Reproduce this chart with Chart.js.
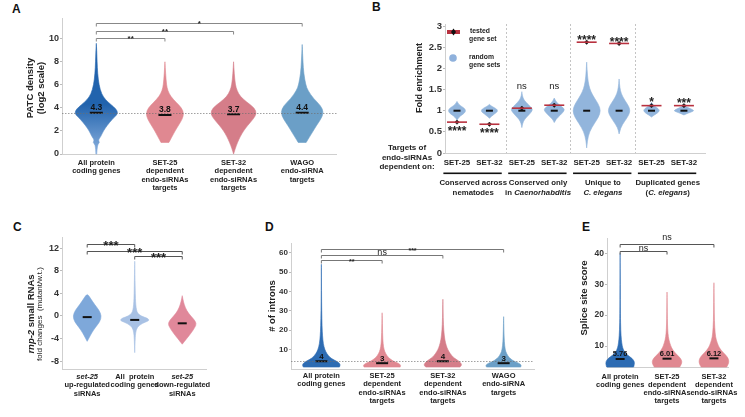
<!DOCTYPE html>
<html>
<head>
<meta charset="utf-8">
<script src="https://cdn.jsdelivr.net/npm/chart.js@4.4.0/dist/chart.umd.min.js"></script>
<style>
    body { margin: 0; background: #fff; width: 745px; height: 417px; overflow: hidden; position: relative;
           font-family: 'Liberation Sans', Arial, sans-serif; }
    canvas { position: absolute; }
    .letter { position: absolute; font-weight: bold; font-size: 12px; line-height: 1; color: #111; }
</style>
</head>
<body>
<div class="letter" style="left:12px;top:3px">A</div>
<div class="letter" style="left:372px;top:1px">B</div>
<div class="letter" style="left:13px;top:221px">C</div>
<div class="letter" style="left:265px;top:221px">D</div>
<div class="letter" style="left:582px;top:221px">E</div>

<canvas id="chartA" width="345" height="210" style="left:0;top:0"></canvas>
<canvas id="chartB" width="400" height="210" style="left:345px;top:0"></canvas>
<canvas id="chartC" width="250" height="207" style="left:0;top:210px"></canvas>
<canvas id="chartD" width="292" height="207" style="left:250px;top:210px"></canvas>
<canvas id="chartE" width="203" height="207" style="left:542px;top:210px"></canvas>

<script>
// ---- A: PATC density ----
const aCategories = [['All protein', 'coding genes'], ['SET-25', 'dependent', 'endo-siRNAs', 'targets'],
                     ['SET-32', 'dependent', 'endo-siRNAs', 'targets'], ['WAGO', 'endo-siRNA', 'targets']];
const aYTicks = [0, 2, 4, 6, 8, 10];
const aMedians = [3.57, 3.39, 3.45, 3.57];
const aMeanLabels = ['4.3', '3.8', '3.7', '4.4'];
const aReference = 3.55;
const aBrackets = [[1, 2, 10.1, '**'], [1, 3, 10.7, '**'], [1, 4, 11.4, '*']];
// violin outlines: [value, relative half width]
const aViolins = [
    [[0, 0.02], [0.8, 0.04], [1.0, 0.16], [1.2, 0.08], [1.5, 0.2], [2, 0.32], [2.5, 0.5], [3, 0.72], [3.4, 0.93],
     [3.6, 0.97], [3.9, 0.9], [4.3, 0.66], [4.7, 0.42], [5.2, 0.24], [6, 0.12], [7, 0.06], [8, 0.035], [9, 0.018], [9.6, 0]],
    [[1, 0.18], [1.5, 0.32], [2, 0.46], [2.5, 0.62], [3, 0.78], [3.5, 0.86], [4, 0.76], [4.5, 0.5], [5, 0.26],
     [5.5, 0.13], [6, 0.07], [7, 0.03], [8, 0]],
    [[0, 0], [0.5, 0.08], [1, 0.18], [1.5, 0.3], [2, 0.45], [2.5, 0.65], [3, 0.88], [3.5, 1.05], [4, 0.95],
     [4.5, 0.6], [5, 0.3], [5.5, 0.16], [6, 0.08], [7, 0.03], [8, 0]],
    [[1, 0.18], [1.5, 0.34], [2, 0.5], [2.5, 0.66], [3, 0.84], [3.6, 0.98], [4.2, 0.84], [4.8, 0.52], [5.5, 0.26],
     [6, 0.16], [7, 0.07], [8, 0.035], [9.5, 0]]
];

// ---- B: fold enrichment ----
const bCategories = ['SET-25', 'SET-32', 'SET-25', 'SET-32', 'SET-25', 'SET-32', 'SET-25', 'SET-32'];
const bGroups = [['Conserved across', 'nematodes'], ['Conserved only', 'in _Caenorhabditis_'],
                 ['Unique to', '_C. elegans_'], ['Duplicated genes', '(_C. elegans_)']];
const bYTicks = [0, 0.5, 1, 1.5, 2, 2.5, 3];
const bMedians = [1, 1, 1, 1, 1, 1, 1, 1];
const bTested = [0.73, 0.68, 1.06, 1.13, 2.62, 2.59, 1.12, 1.12];
const bSigLabels = ['****', '****', 'ns', 'ns', '****', '****', '*', '***'];
const bSigLevels = [0.6, 0.54, 1.58, 1.58, 2.75, 2.71, 1.27, 1.25];
const bRowTitle = ['Targets of', 'endo-siRNAs', 'dependent on:'];
const bLegendTested = ['tested', 'gene set'];
const bLegendRandom = ['random', 'gene sets'];
const bViolins = [
    [[0.78, 0], [0.85, 0.15], [0.9, 0.35], [0.95, 0.55], [1.0, 0.62], [1.05, 0.55], [1.1, 0.33], [1.15, 0.13], [1.22, 0]],
    [[0.82, 0], [0.87, 0.15], [0.92, 0.35], [0.97, 0.55], [1.0, 0.58], [1.04, 0.52], [1.08, 0.3], [1.12, 0.1], [1.15, 0]],
    [[0.6, 0], [0.7, 0.05], [0.8, 0.2], [0.9, 0.5], [1.0, 0.75], [1.05, 0.74], [1.15, 0.45], [1.25, 0.15], [1.35, 0.04], [1.45, 0]],
    [[0.72, 0], [0.8, 0.12], [0.9, 0.45], [1.0, 0.72], [1.05, 0.7], [1.12, 0.45], [1.2, 0.15], [1.3, 0]],
    [[0.12, 0], [0.3, 0.05], [0.5, 0.2], [0.7, 0.55], [0.85, 0.85], [1.0, 1.0], [1.15, 0.85], [1.3, 0.55], [1.45, 0.3],
     [1.6, 0.15], [1.8, 0.06], [2.15, 0]],
    [[0.45, 0], [0.6, 0.1], [0.75, 0.4], [0.9, 0.7], [1.0, 0.78], [1.1, 0.7], [1.25, 0.4], [1.4, 0.15], [1.55, 0.05], [1.75, 0]],
    [[0.85, 0], [0.9, 0.2], [0.95, 0.45], [1.0, 0.58], [1.05, 0.48], [1.1, 0.25], [1.15, 0.08], [1.2, 0]],
    [[0.9, 0], [0.95, 0.35], [1.0, 0.78], [1.05, 0.45], [1.1, 0.12], [1.15, 0]]
];

// ---- C: rnp-2 small RNAs ----
const cCategories = [['_set-25_', 'up-regulated', 'siRNAs'], ['All  protein', 'coding genes'],
                     ['_set-25_', 'down-regulated', 'siRNAs']];
const cYTicks = [-8, -4, 0, 4, 8, 12];
const cMedians = [-0.2, -0.7, -1.3];
const cBrackets = [[1, 2, 12.7, '***'], [1, 3, 11.6, '***'], [2, 3, 10.6, '***']];
const cTitle = ['_rnp-2_ small RNAs', 'fold changes  (mutant/w.t.)'];
const cViolins = [
    [[-4.5, 0], [-4, 0.1], [-3, 0.3], [-2, 0.55], [-1, 0.85], [0, 0.95], [1, 0.8], [2, 0.5], [3, 0.25], [3.6, 0.1], [3.8, 0]],
    [[-6.5, 0], [-4, 0.03], [-3, 0.06], [-2, 0.15], [-1.3, 0.5], [-0.9, 0.9], [-0.7, 0.95], [-0.4, 0.85], [0, 0.4],
     [0.5, 0.2], [1, 0.12], [2, 0.07], [3, 0.05], [5, 0.03], [9.7, 0]],
    [[-5, 0], [-4.5, 0.15], [-4, 0.3], [-3, 0.6], [-2, 0.85], [-1.3, 0.95], [-0.5, 0.75], [0.5, 0.4], [1.5, 0.2],
     [2.5, 0.08], [3.6, 0]]
];

// ---- D: number of introns ----
const dCategories = [['All protein', 'coding genes'], ['SET-25', 'dependent', 'endo-siRNAs', 'targets'],
                     ['SET-32', 'dependent', 'endo-siRNAs', 'targets'], ['WAGO', 'endo-siRNA', 'targets']];
const dYTicks = [10, 20, 30, 40, 50, 60];
const dMedians = [4, 3, 4, 3];
const dMedianLabels = ['4', '3', '4', '3'];
const dReference = 4;
const dBrackets = [[1, 2, 56, '**'], [1, 3, 59, 'ns'], [1, 4, 62, '***']];
const dViolins = [
    [[1, 0.95], [2, 1.0], [3, 0.95], [4, 0.8], [5, 0.6], [6, 0.45], [8, 0.28], [10, 0.18], [13, 0.1], [17, 0.06],
     [22, 0.035], [30, 0.018], [40, 0.008], [54, 0]],
    [[1, 0.95], [2, 1.0], [3, 0.85], [4, 0.6], [5, 0.45], [6, 0.32], [8, 0.18], [10, 0.1], [13, 0.05], [18, 0.025], [29, 0]],
    [[1, 0.9], [2, 1.0], [3, 0.95], [4, 0.85], [5, 0.7], [6, 0.55], [8, 0.38], [10, 0.26], [12, 0.18], [15, 0.1],
     [20, 0.045], [26, 0.018], [36, 0]],
    [[1, 0.9], [2, 0.95], [3, 0.8], [4, 0.55], [5, 0.4], [6, 0.28], [8, 0.15], [10, 0.08], [14, 0.035], [20, 0.015], [27, 0]]
];

// ---- E: splice site score ----
const eCategories = [['All protein', 'coding genes'], ['SET-25', 'dependent', 'endo-siRNAs', 'targets'],
                     ['SET-32', 'dependent', 'endo-siRNAs', 'targets']];
const eYTicks = [10, 20, 30, 40];
const eMedians = [5.8, 5.9, 6.0];
const eMedianLabels = ['5.76', '6.01', '6.12'];
const eBrackets = [[1, 2, 40.7, 'ns'], [1, 3, 42.9, 'ns', 45.1]];
const eViolins = [
    [[3.2, 0.9], [4, 0.95], [5, 0.95], [6, 0.8], [7, 0.5], [8, 0.3], [9, 0.2], [10, 0.14], [12, 0.08], [15, 0.04],
     [20, 0.02], [30, 0.01], [40, 0]],
    [[3.2, 0.85], [4, 0.95], [5, 1.0], [6, 0.9], [7, 0.7], [8, 0.5], [9, 0.35], [10, 0.25], [12, 0.12], [14, 0.06],
     [17, 0.03], [21, 0.015], [27.5, 0]],
    [[3.2, 0.85], [4, 0.95], [5, 1.0], [6, 0.95], [7, 0.8], [8, 0.6], [9, 0.42], [10, 0.3], [12, 0.15], [14, 0.08],
     [18, 0.03], [24, 0.015], [30.5, 0]]
];

const FONT = "'Liberation Sans', Arial, sans-serif";
Chart.defaults.font.family = FONT;
Chart.defaults.color = '#333';

const DARK_BLUE = '#2d6cb3';
const PINK = '#e08891';
const PINK_DARK = '#d57d89';
const STEEL = '#6b9fc7';

function font(size, weight, style) {
    return (style || 'normal') + ' ' + (weight || 'normal') + ' ' + size + 'px ' + FONT;
}

// text with _italic_ parts, centred on (cx, cy)
function richText(ctx, text, cx, cy, size, weight, color) {
    const parts = text.split('_');
    ctx.save();
    ctx.textBaseline = 'middle';
    ctx.textAlign = 'left';
    ctx.fillStyle = color || '#222';
    let total = 0;
    const widths = parts.map((p, i) => {
        ctx.font = font(size, weight, i % 2 ? 'italic' : 'normal');
        const w = ctx.measureText(p).width;
        total += w;
        return w;
    });
    let px = cx - total / 2;
    parts.forEach((p, i) => {
        ctx.font = font(size, weight, i % 2 ? 'italic' : 'normal');
        ctx.fillText(p, px, cy);
        px += widths[i];
    });
    ctx.restore();
}

function verticalText(ctx, text, x, y, size, weight) {
    ctx.save();
    ctx.translate(x, y);
    ctx.rotate(-Math.PI / 2);
    richText(ctx, text, 0, 0, size, weight, '#222');
    ctx.restore();
}

// label centred at cy; asterisks sit high in the em box, so they get a lower baseline
function sigText(ctx, text, cx, cy, size, weight) {
    ctx.save();
    ctx.font = font(size, weight);
    ctx.fillStyle = '#222';
    ctx.textAlign = 'center';
    ctx.textBaseline = 'alphabetic';
    const stars = /^\*+$/.test(text);
    ctx.fillText(text, cx, cy + (stars ? 0.6 : 0.27) * size);
    ctx.restore();
}

function smoothShape(ctx, pts) {
    ctx.moveTo(pts[0][0], pts[0][1]);
    for (let i = 1; i < pts.length - 1; i++) {
        const mx = (pts[i][0] + pts[i + 1][0]) / 2;
        const my = (pts[i][1] + pts[i + 1][1]) / 2;
        ctx.quadraticCurveTo(pts[i][0], pts[i][1], mx, my);
    }
    const last = pts[pts.length - 1];
    ctx.lineTo(last[0], last[1]);
}

function drawViolins(chart, shapes, colors, halfWidth) {
    const { ctx, scales: { x, y } } = chart;
    shapes.forEach((prof, i) => {
        const cx = x.getPixelForValue(i + 1);
        const right = prof.map(p => [cx + p[1] * halfWidth, y.getPixelForValue(p[0])]);
        const left = prof.slice().reverse().map(p => [cx - p[1] * halfWidth, y.getPixelForValue(p[0])]);
        const col = colors[i];
        ctx.save();
        if (Array.isArray(col)) {
            const g = ctx.createLinearGradient(0, right[right.length - 1][1], 0, right[0][1]);
            g.addColorStop(0, col[0]);
            g.addColorStop(0.55, col[0]);
            g.addColorStop(1, col[1]);
            ctx.fillStyle = g;
            ctx.strokeStyle = g;
        } else {
            ctx.fillStyle = col;
            ctx.strokeStyle = col;
        }
        ctx.beginPath();
        smoothShape(ctx, right.concat(left));
        ctx.closePath();
        ctx.fill();
        ctx.lineWidth = 0.6;
        ctx.stroke();
        ctx.restore();
    });
}

function drawRefLine(chart, value) {
    const { ctx, chartArea, scales: { y } } = chart;
    const yy = Math.round(y.getPixelForValue(value)) + 0.5;
    ctx.save();
    ctx.strokeStyle = 'rgba(110,110,110,0.65)';
    ctx.lineWidth = 1;
    ctx.setLineDash([1.5, 1.5]);
    ctx.beginPath();
    ctx.moveTo(chartArea.left, yy);
    ctx.lineTo(chartArea.right, yy);
    ctx.stroke();
    ctx.restore();
}

function drawValueLabels(chart, labels, values, size) {
    const { ctx, scales: { x, y } } = chart;
    ctx.save();
    ctx.font = font(size, 'bold');
    ctx.fillStyle = '#111';
    ctx.textAlign = 'center';
    ctx.textBaseline = 'alphabetic';
    labels.forEach((t, i) => ctx.fillText(t, x.getPixelForValue(i + 1), y.getPixelForValue(values[i]) - 2.5));
    ctx.restore();
}

function drawBrackets(chart, list, st) {
    const { ctx, scales: { x, y } } = chart;
    list.forEach(b => {
        const x1 = x.getPixelForValue(b[0]);
        const x2 = x.getPixelForValue(b[1]);
        const yy = Math.round(y.getPixelForValue(b[2])) + 0.5;
        ctx.save();
        ctx.strokeStyle = st.color;
        ctx.lineWidth = st.width;
        ctx.beginPath();
        ctx.moveTo(x1, yy + st.tick);
        ctx.lineTo(x1, yy);
        ctx.lineTo(x2, yy);
        ctx.lineTo(x2, yy + st.tick);
        ctx.stroke();
        ctx.restore();
        const stars = /^\*+$/.test(b[3]);
        const cy = b[4] !== undefined ? y.getPixelForValue(b[4]) : yy - (stars ? st.starLift : st.textLift);
        if (stars) sigText(ctx, b[3], (x1 + x2) / 2, cy, st.starSize, 'bold');
        else sigText(ctx, b[3], (x1 + x2) / 2, cy, st.textSize, 'normal');
    });
}

function makeChart(id, spec) {
    const datasets = [{
        data: spec.medians.map((m, i) => ({ x: i + 1, y: m })),
        showLine: false,
        pointStyle: 'line',
        pointRadius: spec.medianHalf,
        pointBorderColor: '#111',
        pointBorderWidth: 2
    }].concat(spec.extraDatasets || []);

    return new Chart(document.getElementById(id), {
        type: 'scatter',
        data: { datasets: datasets },
        options: {
            responsive: false,
            animation: false,
            events: [],
            layout: { padding: spec.padding },
            plugins: { legend: { display: false }, tooltip: { enabled: false } },
            scales: {
                x: {
                    type: 'linear',
                    min: spec.xRange[0],
                    max: spec.xRange[1],
                    afterBuildTicks: s => { s.ticks = spec.categories.map((c, i) => ({ value: i + 1 })); },
                    afterFit: s => { s.height = spec.xHeight; s.paddingLeft = 0; s.paddingRight = 0; },
                    ticks: {
                        display: spec.showXTicks !== false,
                        autoSkip: false, maxRotation: 0, minRotation: 0,
                        padding: spec.xPad,
                        color: '#222',
                        font: spec.xFont,
                        callback: v => spec.categories[Math.round(v) - 1]
                    },
                    grid: { display: false, drawTicks: false },
                    border: { color: '#cfcfcf', width: 1 }
                },
                y: {
                    type: 'linear',
                    min: spec.yRange[0],
                    max: spec.yRange[1],
                    afterBuildTicks: s => { s.ticks = spec.yTicks.map(v => ({ value: v })); },
                    afterFit: s => { s.width = spec.yWidth; s.paddingTop = 0; s.paddingBottom = 0; },
                    ticks: { padding: 1, color: '#333', font: spec.yFont, callback: v => String(v) },
                    grid: { drawOnChartArea: false, tickLength: 2, color: '#bbb' },
                    border: { color: '#cfcfcf', width: 1 }
                }
            }
        },
        plugins: [{
            id: 'decor',
            beforeDatasetsDraw(chart) {
                if (spec.before) spec.before(chart);
                drawViolins(chart, spec.violins, spec.colors, spec.halfWidth);
            },
            afterDatasetsDraw(chart) {
                if (spec.after) spec.after(chart);
            }
        }]
    });
}

const tickX = { size: 7.5, weight: 'bold', lineHeight: 1.1 };

// A
makeChart('chartA', {
    categories: aCategories, xRange: [0.5, 4.5], yRange: [0, 11.8], yTicks: aYTicks,
    yWidth: 62, xHeight: 56, padding: { top: 18, right: 7, left: 0, bottom: 0 }, xPad: 5,
    xFont: tickX, yFont: { size: 9, weight: 'bold' },
    violins: aViolins, colors: [['#2163ad', '#8ab0de'], PINK, PINK_DARK, STEEL], halfWidth: 22,
    medians: aMedians, medianHalf: 6.5,
    after(chart) {
        drawRefLine(chart, aReference);
        drawValueLabels(chart, aMeanLabels, aMedians, 8.5);
        drawBrackets(chart, aBrackets, { color: '#888', width: 1, tick: 3, starSize: 8, starLift: 2.7, textSize: 9, textLift: 3 });
        verticalText(chart.ctx, 'PATC density', 30, 88, 9.5, 'bold');
        verticalText(chart.ctx, '(log2 scale)', 41, 88, 9.5, 'bold');
    }
});

// B
makeChart('chartB', {
    categories: bCategories, xRange: [0.63, 8.65], yRange: [0, 3.05], yTicks: bYTicks,
    yWidth: 100, xHeight: 57, padding: { top: 24, right: 40, left: 0, bottom: 0 }, xPad: 5,
    xFont: { size: 7.9, weight: 'bold' }, yFont: { size: 9.5, weight: 'bold' },
    violins: bViolins, colors: bViolins.map(() => '#92b5dc'), halfWidth: 14,
    medians: bMedians, medianHalf: 3.5,
    extraDatasets: [{
        data: bTested.map((v, i) => ({ x: i + 1, y: v })),
        showLine: false, pointStyle: 'line', pointRadius: 10,
        pointBorderColor: '#b8313f', pointBorderWidth: 1.6
    }, {
        data: bTested.map((v, i) => ({ x: i + 1, y: v })),
        showLine: false, pointStyle: 'rectRot', pointRadius: 2.2,
        pointBackgroundColor: '#111', pointBorderColor: '#111', pointBorderWidth: 0.5
    }],
    before(chart) {
        const { ctx, chartArea, scales: { x } } = chart;
        ctx.save();
        ctx.strokeStyle = '#c4c4c4';
        ctx.lineWidth = 1;
        ctx.setLineDash([2, 2]);
        for (let g = 1; g < bGroups.length; g++) {
            const px = Math.round(x.getPixelForValue(g * 2 + 0.5)) + 0.5;
            ctx.beginPath();
            ctx.moveTo(px, chartArea.top);
            ctx.lineTo(px, chartArea.bottom);
            ctx.stroke();
        }
        ctx.restore();
    },
    after(chart) {
        const { ctx, scales: { x, y } } = chart;
        bSigLabels.forEach((t, i) => {
            const stars = /^\*+$/.test(t);
            sigText(ctx, t, x.getPixelForValue(i + 1), y.getPixelForValue(bSigLevels[i]), stars ? 12 : 9.5, stars ? 'bold' : 'normal');
        });
        // group underlines and names
        bGroups.forEach((lines, gi) => {
            const first = gi * 2 + 1;
            const x1 = x.getPixelForValue(first - 0.42);
            const x2 = x.getPixelForValue(first + 1.38);
            ctx.fillStyle = '#111';
            ctx.fillRect(x1, 172.5, x2 - x1, 1.6);
            const cx = x.getPixelForValue(first + 0.5);
            lines.forEach((t, li) => richText(ctx, t, cx, 183 + li * 10, 7.8, 'bold', '#222'));
        });
        bRowTitle.forEach((t, i) => richText(ctx, t, 62, 148 + i * 9.5, 8, 'bold', '#222'));
        // legend
        ctx.save();
        ctx.fillStyle = '#b8313f';
        ctx.fillRect(102, 30, 13, 4);
        ctx.fillStyle = '#111';
        ctx.beginPath();
        ctx.moveTo(108.5, 28.5); ctx.lineTo(111, 32); ctx.lineTo(108.5, 35.5); ctx.lineTo(106, 32);
        ctx.closePath();
        ctx.fill();
        ctx.fillStyle = '#8fb1dc';
        ctx.beginPath();
        ctx.arc(108, 58, 3.8, 0, Math.PI * 2);
        ctx.fill();
        ctx.restore();
        ctx.save();
        ctx.font = font(6.8, 'bold');
        ctx.fillStyle = '#222';
        ctx.textAlign = 'left';
        ctx.textBaseline = 'middle';
        bLegendTested.forEach((t, i) => ctx.fillText(t, i ? 124 : 125, 31 + i * 8.5));
        bLegendRandom.forEach((t, i) => ctx.fillText(t, 124, 57 + i * 8.5));
        ctx.restore();
        verticalText(ctx, 'Fold enrichment', 75, 78, 9, 'bold');
    }
});

// C
makeChart('chartC', {
    categories: cCategories, xRange: [0.47, 3.5], yRange: [-9.4, 14], yTicks: cYTicks,
    yWidth: 62, xHeight: 48, padding: { top: 27, right: 44, left: 0, bottom: 0 }, xPad: 5,
    showXTicks: false, xFont: tickX, yFont: { size: 9, weight: 'bold' },
    violins: cViolins, colors: ['#7ea8da', '#a8c1e4', '#e0889a'], halfWidth: 15,
    medians: cMedians, medianHalf: 4.5,
    after(chart) {
        const { ctx, scales: { x } } = chart;
        drawBrackets(chart, cBrackets, { color: '#555', width: 1, tick: 3, starSize: 13, starLift: 2.7, textSize: 9, textLift: 3 });
        cCategories.forEach((lines, i) => {
            lines.forEach((t, li) => richText(ctx, t, x.getPixelForValue(i + 1), 167 + li * 8.3, 7.5, 'bold', '#222'));
        });
        verticalText(ctx, cTitle[0], 31, 104, 9.5, 'bold');
        verticalText(ctx, cTitle[1], 40, 104, 8, 'normal');
    }
});

// D
makeChart('chartD', {
    categories: dCategories, xRange: [0.5, 4.5], yRange: [0, 65], yTicks: dYTicks,
    yWidth: 41, xHeight: 48, padding: { top: 33, right: 6.5, left: 0, bottom: 0 }, xPad: 3,
    xFont: tickX, yFont: { size: 8, weight: 'bold' },
    violins: dViolins, colors: [DARK_BLUE, PINK, PINK_DARK, STEEL], halfWidth: 19,
    medians: dMedians, medianHalf: 6,
    after(chart) {
        drawRefLine(chart, dReference);
        drawValueLabels(chart, dMedianLabels, dMedians, 8);
        drawBrackets(chart, dBrackets, { color: '#777', width: 1, tick: 3, starSize: 7, starLift: 1, textSize: 9, textLift: 3.3 });
        verticalText(chart.ctx, '# of introns', 22, 96, 9.5, 'bold');
    }
});

// E
makeChart('chartE', {
    categories: eCategories, xRange: [0.72, 3.3], yRange: [3.2, 45], yTicks: eYTicks,
    yWidth: 65, xHeight: 50, padding: { top: 28, right: 17, left: 0, bottom: 0 }, xPad: 5.5,
    xFont: tickX, yFont: { size: 8.5, weight: 'bold' },
    violins: eViolins, colors: [DARK_BLUE, PINK, PINK], halfWidth: 15,
    medians: eMedians, medianHalf: 4.5,
    after(chart) {
        drawValueLabels(chart, eMedianLabels, eMedians, 7.5);
        drawBrackets(chart, eBrackets, { color: '#555', width: 1, tick: 3, starSize: 8, starLift: 2, textSize: 9, textLift: 3.4 });
        verticalText(chart.ctx, 'Splice site score', 42, 88, 9.5, 'bold');
    }
});
</script>
</body>
</html>
